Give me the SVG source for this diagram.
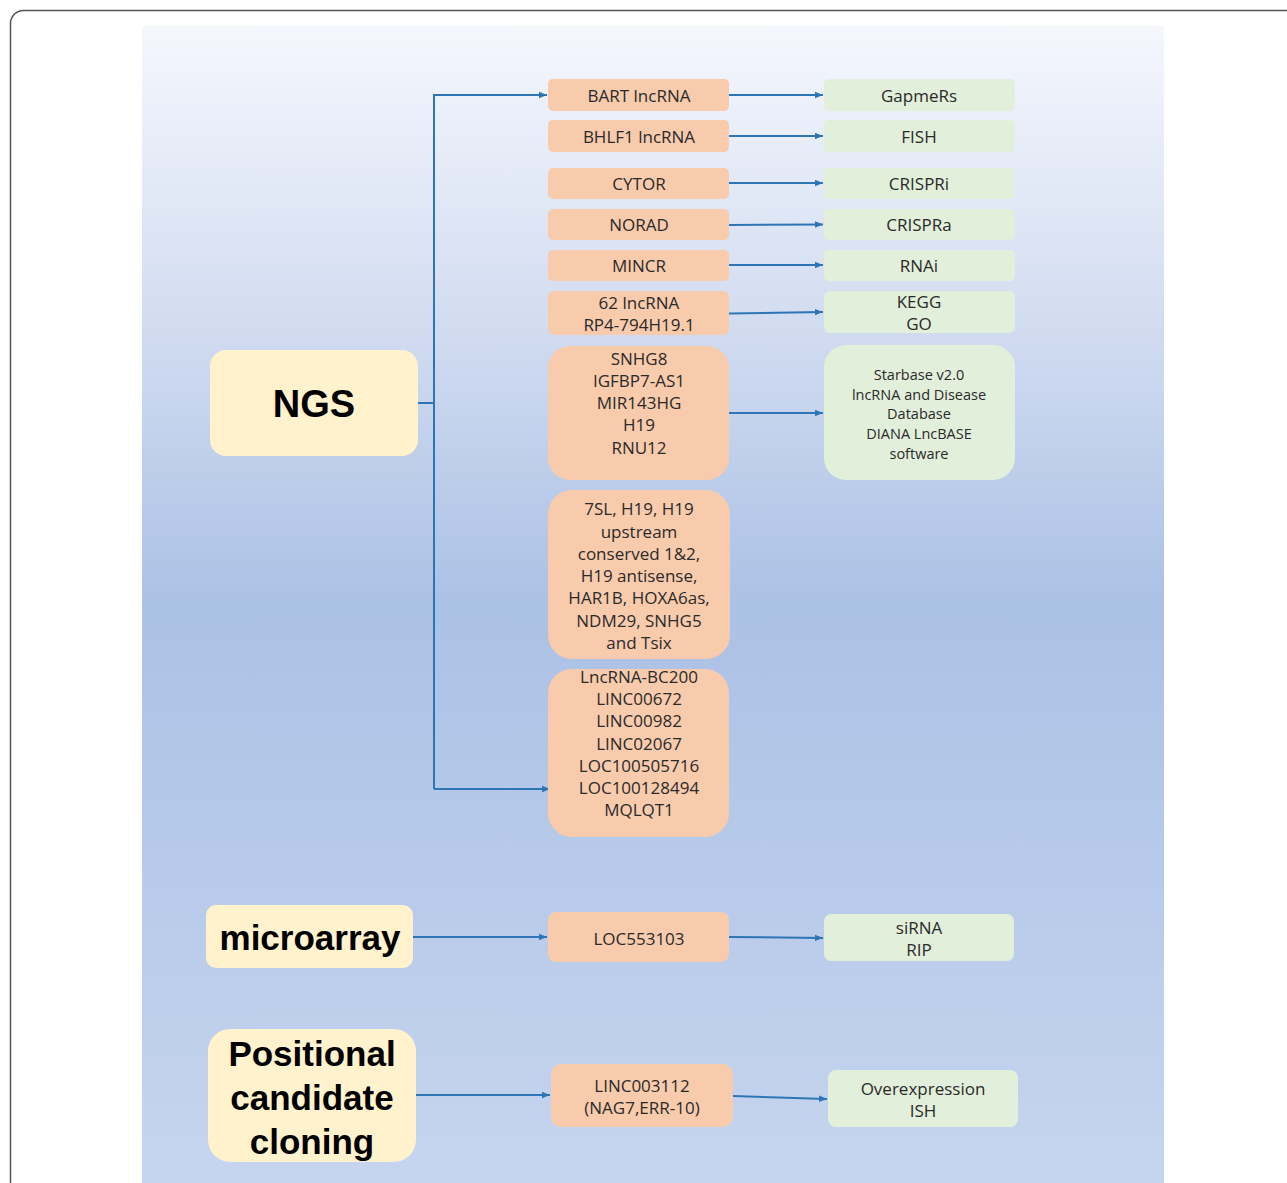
<svg xmlns="http://www.w3.org/2000/svg" width="1287" height="1183" viewBox="0 0 1287 1183">
<defs>
<linearGradient id="bg" x1="0" y1="26" x2="0" y2="1183" gradientUnits="userSpaceOnUse">
<stop offset="0" stop-color="#f5f7fd"/>
<stop offset="0.25" stop-color="#d3ddf1"/>
<stop offset="0.5" stop-color="#abc1e5"/>
<stop offset="1" stop-color="#c6d5ef"/>
</linearGradient>
<marker id="arr" markerUnits="userSpaceOnUse" markerWidth="9" markerHeight="8" refX="8" refY="4" orient="auto">
<path d="M0,0.8 L8,4 L0,7.2 z" fill="#2e75b6"/>
</marker>
<style>
.o{fill:#f8cbad}
.g{fill:#e2efda}
.y{fill:#fff2cc}
.t{font-family:"Open Sans","Liberation Sans",sans-serif;font-size:17px;fill:#2a2a2a;text-anchor:middle;dominant-baseline:central}
.s{font-family:"Open Sans","Liberation Sans",sans-serif;font-size:14.5px;fill:#2a2a2a;text-anchor:middle;dominant-baseline:central}
.b{font-family:"Liberation Sans",Arial,sans-serif;font-weight:bold;fill:#000;text-anchor:middle;dominant-baseline:central}
.c{fill:none;stroke:#2e75b6;stroke-width:2;marker-end:url(#arr)}
.l{fill:none;stroke:#2e75b6;stroke-width:2}
</style>
</defs>
<rect x="10.5" y="10.5" width="1320" height="1220" rx="13" fill="#fff" stroke="#555" stroke-width="1.5"/>
<rect x="142" y="26" width="1022" height="1157" fill="url(#bg)"/>

<g id="connectors">
<path class="l" d="M418,403 H434"/>
<path class="c" d="M434,789 V95 H547"/>
<path class="c" d="M434,789 H550"/>
<path class="c" d="M729,95 H823"/>
<path class="c" d="M729,136 H823"/>
<path class="c" d="M729,183 H823"/>
<path class="c" d="M729,225 L823,224.5"/>
<path class="c" d="M729,265 H823"/>
<path class="c" d="M729,313.5 L823,312"/>
<path class="c" d="M729,413 H823"/>
<path class="c" d="M413,937 H547"/>
<path class="c" d="M729,937 L823,938"/>
<path class="c" d="M416,1095 H550"/>
<path class="c" d="M733,1096 L827,1099"/>
</g>

<g id="ngs"><rect class="y" x="210" y="350" width="208" height="106" rx="16"/><text class="b" x="314" y="404" font-size="38">NGS</text></g>
<g id="microarray"><rect class="y" x="206" y="905" width="207" height="63" rx="10"/><text class="b" x="310" y="937" font-size="35">microarray</text></g>
<g id="positional"><rect class="y" x="208" y="1029" width="208" height="133" rx="22"/>
<text class="b" x="312" y="1053" font-size="35">Positional</text>
<text class="b" x="312" y="1097" font-size="35">candidate</text>
<text class="b" x="312" y="1141" font-size="35">cloning</text></g>

<g id="bart"><rect class="o" x="548" y="79" width="181" height="32" rx="5"/><text class="t" x="639" y="95">BART lncRNA</text></g>
<g id="bhlf1"><rect class="o" x="548" y="120" width="181" height="32" rx="5"/><text class="t" x="639" y="136">BHLF1 lncRNA</text></g>
<g id="cytor"><rect class="o" x="548" y="168" width="181" height="31" rx="5"/><text class="t" x="639" y="183.5">CYTOR</text></g>
<g id="norad"><rect class="o" x="548" y="209" width="181" height="31" rx="5"/><text class="t" x="639" y="224.5">NORAD</text></g>
<g id="mincr"><rect class="o" x="548" y="250" width="181" height="31" rx="5"/><text class="t" x="639" y="265.5">MINCR</text></g>
<g id="lnc62"><rect class="o" x="548" y="291" width="181" height="44" rx="6"/><text class="t" x="639" y="302">62 lncRNA</text><text class="t" x="639" y="324">RP4-794H19.1</text></g>
<g id="snhg8"><rect class="o" x="548" y="346" width="181" height="134" rx="22"/>
<text class="t" x="639" y="358">SNHG8</text>
<text class="t" x="639" y="380">IGFBP7-AS1</text>
<text class="t" x="639" y="402">MIR143HG</text>
<text class="t" x="639" y="424">H19</text>
<text class="t" x="639" y="447">RNU12</text></g>
<g id="sl7"><rect class="o" x="548" y="490" width="182" height="169" rx="24"/>
<text class="t" x="639" y="508">7SL, H19, H19</text>
<text class="t" x="639" y="531">upstream</text>
<text class="t" x="639" y="553">conserved 1&amp;2,</text>
<text class="t" x="639" y="575">H19 antisense,</text>
<text class="t" x="639" y="597">HAR1B, HOXA6as,</text>
<text class="t" x="639" y="620">NDM29, SNHG5</text>
<text class="t" x="639" y="642">and Tsix</text></g>
<g id="bc200"><rect class="o" x="548" y="669" width="181" height="168" rx="24"/>
<text class="t" x="639" y="676">LncRNA-BC200</text>
<text class="t" x="639" y="698">LINC00672</text>
<text class="t" x="639" y="720">LINC00982</text>
<text class="t" x="639" y="743">LINC02067</text>
<text class="t" x="639" y="765">LOC100505716</text>
<text class="t" x="639" y="787">LOC100128494</text>
<text class="t" x="639" y="809">MQLQT1</text></g>
<g id="loc553103"><rect class="o" x="548" y="912" width="181" height="50" rx="8"/><text class="t" x="639" y="938">LOC553103</text></g>
<g id="linc003112"><rect class="o" x="551" y="1064" width="182" height="63" rx="10"/><text class="t" x="642" y="1085">LINC003112</text><text class="t" x="642" y="1107">(NAG7,ERR-10)</text></g>

<g id="gapmers"><rect class="g" x="824" y="79" width="191" height="32" rx="5"/><text class="t" x="919" y="95">GapmeRs</text></g>
<g id="fish"><rect class="g" x="824" y="120" width="191" height="32" rx="5"/><text class="t" x="919" y="136">FISH</text></g>
<g id="crispri"><rect class="g" x="824" y="168" width="191" height="31" rx="5"/><text class="t" x="919" y="183.5">CRISPRi</text></g>
<g id="crispra"><rect class="g" x="824" y="209" width="191" height="31" rx="5"/><text class="t" x="919" y="224.5">CRISPRa</text></g>
<g id="rnai"><rect class="g" x="824" y="250" width="191" height="31" rx="5"/><text class="t" x="919" y="265.5">RNAi</text></g>
<g id="kegg"><rect class="g" x="824" y="291" width="191" height="42" rx="6"/><text class="t" x="919" y="301">KEGG</text><text class="t" x="919" y="323">GO</text></g>
<g id="starbase"><rect class="g" x="824" y="345" width="191" height="135" rx="22"/>
<text class="s" x="919" y="374">Starbase v2.0</text>
<text class="s" x="919" y="394">lncRNA and Disease</text>
<text class="s" x="919" y="413">Database</text>
<text class="s" x="919" y="433">DIANA LncBASE</text>
<text class="s" x="919" y="453">software</text></g>
<g id="sirna"><rect class="g" x="824" y="914" width="190" height="47" rx="7"/><text class="t" x="919" y="927">siRNA</text><text class="t" x="919" y="949">RIP</text></g>
<g id="overexpression"><rect class="g" x="828" y="1070" width="190" height="57" rx="8"/><text class="t" x="923" y="1088">Overexpression</text><text class="t" x="923" y="1110">ISH</text></g>
</svg>
